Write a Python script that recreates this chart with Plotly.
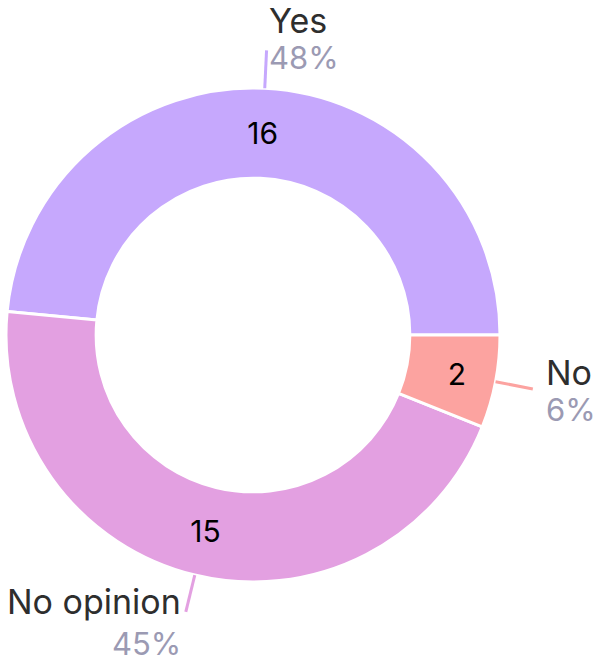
import math
import plotly.graph_objects as go

labels = ["Yes", "No opinion", "No"]
values = [16, 15, 2]
colors = ["#c6a8fd", "#e3a0e1", "#fca3a0"]

W, H = 597, 661
ML, MR, MT, MB = 6, 97, 88, 79
PW, PH = W - ML - MR, H - MT - MB
HOLE = 0.635
FONT = "Inter, Roboto, sans-serif"

total = sum(values)
# plotly's counterclockwise mode lays the first slice clockwise from `rotation`;
# choose rotation so the first slice begins at 3 o'clock going counterclockwise
rotation = 90 - 360 * values[0] / total

fig = go.Figure(go.Pie(
    labels=labels, values=values, sort=False, direction="counterclockwise",
    rotation=rotation, hole=HOLE,
    marker=dict(colors=colors, line=dict(color="white", width=3)),
    texttemplate="%{value}", textposition="inside",
    insidetextorientation="horizontal",
    insidetextfont=dict(family=FONT, size=30, color="#000000"),
    hoverinfo="skip", showlegend=False,
))

# leader lines and outer labels, derived from the data angles
R = min(PW, PH) / 2
cx, cy = ML + PW / 2, MT + PH / 2

def to_paper(px, py):
    return (px - ML) / PW, 1 - (py - MT) / PH

shapes, annots = [], []
start = 0.0
for lab, val, col in zip(labels, values, colors):
    frac = val / total
    mid = start + frac / 2
    start += frac
    th = mid * 2 * math.pi  # counterclockwise from 3 o'clock
    c, s = math.cos(th), math.sin(th)
    x0, y0 = to_paper(cx + R * c, cy - R * s)
    x1, y1 = to_paper(cx + (R + 38) * c, cy - (R + 38) * s)
    shapes.append(dict(type="line", xref="paper", yref="paper",
                       x0=x0, y0=y0, x1=x1, y1=y1,
                       line=dict(color=col, width=3)))
    ax, ay = cx + (R + 49) * c, cy - (R + 49) * s
    anchor = "left" if c > 0 else "right"
    gap = 18.5 + max(0.0, -s) * 2.5
    nx, ny = to_paper(ax, ay - gap)
    px_, py_ = to_paper(ax, ay + gap)
    annots.append(dict(x=nx, y=ny, xref="paper", yref="paper", text=lab,
                       showarrow=False, xanchor=anchor, yanchor="middle",
                       font=dict(family=FONT, size=34, color="#2e2e2e")))
    annots.append(dict(x=px_, y=py_, xref="paper", yref="paper",
                       text=f"{round(frac * 100)}%",
                       showarrow=False, xanchor=anchor, yanchor="middle",
                       font=dict(family=FONT, size=31, color="#9b9ab3")))

fig.update_layout(
    width=W, height=H,
    margin=dict(l=ML, r=MR, t=MT, b=MB),
    paper_bgcolor="white", plot_bgcolor="white",
    shapes=shapes, annotations=annots,
)

fig.write_html("out.html", config={"displayModeBar": False},
               post_script="document.body.style.margin='0';")
